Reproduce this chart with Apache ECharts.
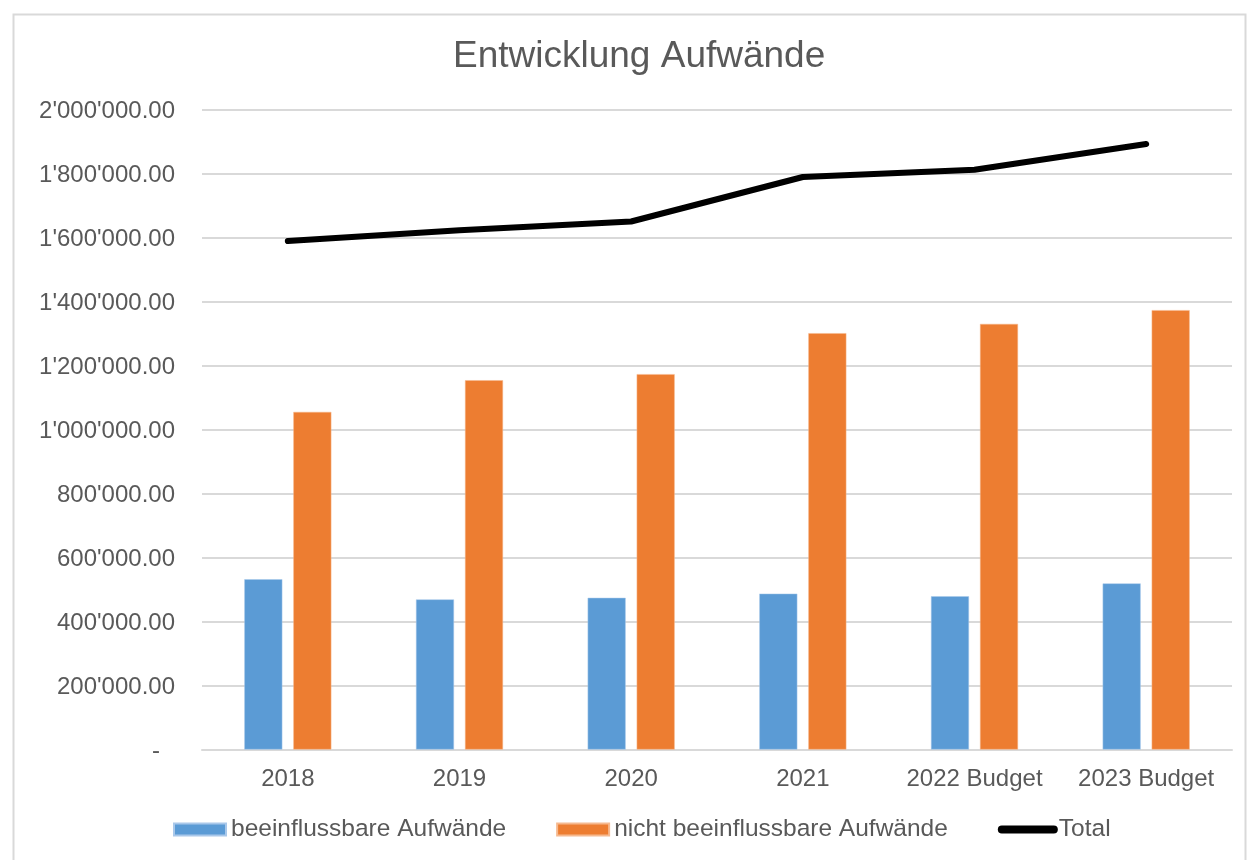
<!DOCTYPE html>
<html>
<head>
<meta charset="utf-8">
<script src="https://cdn.jsdelivr.net/npm/echarts@6/dist/echarts.min.js"></script>
<style>
html,body{margin:0;padding:0;background:#fff;}
#chart{width:1250px;height:860px;}
</style>
</head>
<body>
<div id="chart"></div>
<script>
const categories = ['2018', '2019', '2020', '2021', '2022 Budget', '2023 Budget'];
const beeinflussbar = [532000, 469000, 474000, 487000, 479000, 519000];
const nichtBeeinflussbar = [1055000, 1154000, 1173000, 1301000, 1330000, 1373000];
const total = [1589000, 1623000, 1650000, 1789000, 1812000, 1892000];
const seriesNames = ['beeinflussbare Aufwände', 'nicht beeinflussbare Aufwände', 'Total'];
const chartTitle = 'Entwicklung Aufwände';

const FONT = 'Liberation Sans, Arial, sans-serif';
const TXT = '#595959';

function fmt(v) {
  if (v === 0) return '{dash|-}';
  const s = Math.round(v).toString().replace(/\B(?=(\d{3})+(?!\d))/g, "'");
  return s + '.00';
}

const chart = echarts.init(document.getElementById('chart'), null, {renderer: 'canvas'});
chart.setOption({
  backgroundColor: '#ffffff',
  animation: false,
  graphic: [{
    type: 'rect', left: 11, top: 12, silent: true,
    shape: {width: 1232, height: 900},
    style: {fill: 'none', stroke: '#d9d9d9', lineWidth: 2}
  }],
  title: {
    text: chartTitle,
    left: 453,
    top: 38,
    padding: 0,
    textStyle: {fontFamily: FONT, fontSize: 37, fontWeight: 'normal', color: TXT}
  },
  legend: {
    bottom: 18,
    left: 173,
    padding: 0,
    itemWidth: 52,
    itemHeight: 12,
    itemGap: 50,
    textStyle: {fontFamily: FONT, fontSize: 24.5, color: TXT},
    data: [
      {name: seriesNames[0], icon: 'rect'},
      {name: seriesNames[1], icon: 'rect'},
      {name: seriesNames[2], lineStyle: {width: 8, cap: 'round'}, itemStyle: {opacity: 0, borderWidth: 0}}
    ]
  },
  grid: {left: 202, right: 18, top: 109.5, bottom: 110.5, containLabel: false},
  xAxis: {
    type: 'category',
    data: categories,
    axisLine: {lineStyle: {color: '#d9d9d9', width: 2}},
    axisTick: {show: false},
    axisLabel: {fontFamily: FONT, fontSize: 24, color: TXT, margin: 18, interval: 0}
  },
  yAxis: {
    type: 'value',
    min: 0, max: 2000000, interval: 200000,
    axisLine: {show: false},
    axisTick: {show: false},
    splitLine: {lineStyle: {color: '#d9d9d9', width: 2}},
    axisLabel: {
      fontFamily: FONT, fontSize: 24, color: TXT, margin: 27,
      padding: [3, 0, 0, 0],
      formatter: fmt,
      rich: {dash: {fontFamily: FONT, fontSize: 24, color: TXT, padding: [0, 15, 0, 0]}}
    }
  },
  series: [
    {
      name: seriesNames[0], type: 'bar', data: beeinflussbar,
      barWidth: 38, barGap: '29%',
      itemStyle: {color: '#5B9BD5', borderColor: '#a9c8ea', borderWidth: 0.5}
    },
    {
      name: seriesNames[1], type: 'bar', data: nichtBeeinflussbar,
      barWidth: 38,
      itemStyle: {color: '#ED7D31', borderColor: '#f6b98f', borderWidth: 0.5}
    },
    {
      name: seriesNames[2], type: 'line', data: total,
      symbol: 'none',
      lineStyle: {color: '#000000', width: 6, cap: 'round', join: 'round'},
      itemStyle: {color: '#000000'}
    }
  ]
});
</script>
</body>
</html>
